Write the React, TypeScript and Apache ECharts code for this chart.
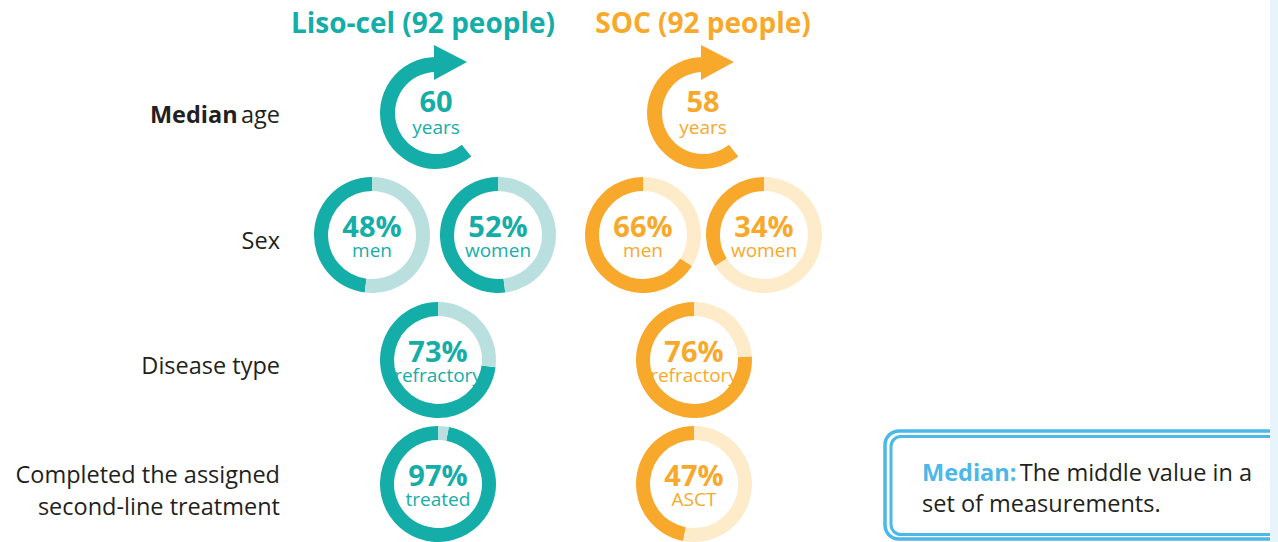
import { useEffect, useRef } from 'react';
import * as echarts from 'echarts';

const groups = ['Liso-cel (92 people)', 'SOC (92 people)'];
const rowLabels = ['Median age', 'Sex', 'Disease type', 'Completed the assigned\nsecond-line treatment'];
const medianAge = [60, 58];
const menPct = [48, 66];
const womenPct = [52, 34];
const refractoryPct = [73, 76];
const completedPct = [97, 47];
const completedLabels = ['treated', 'ASCT'];
const arcDegrees = 219;

const FONT = 'Open Sans';
const DARK = ['#15ada8', '#f8a92b'];
const LIGHT = ['#b9e0df', '#fdebca'];
const TEXT = '#231f20';
const BLUE = '#4bb8e8';

export default function App() {
  const ref = useRef<HTMLDivElement>(null);
  useEffect(() => {
    const chart = echarts.init(ref.current!, null, { renderer: 'svg' });

    const donut = (
      cx: number,
      cy: number,
      pct: number,
      sub: string,
      g: number,
      r: [number, number]
    ) => ({
      type: 'pie',
      silent: true,
      center: [cx, cy],
      radius: r,
      startAngle: 90,
      clockwise: false,
      avoidLabelOverlap: false,
      labelLine: { show: false },
      itemStyle: { borderWidth: 0 },
      data: [
        {
          value: pct,
          itemStyle: { color: DARK[g] },
          label: {
            show: true,
            position: 'center',
            formatter: `{p|${pct}%}\n{s|${sub}}`,
            rich: {
              p: { fontFamily: FONT, fontSize: 29, fontWeight: 'bold', color: DARK[g], lineHeight: 29 },
              s: { fontFamily: FONT, fontSize: 19, color: DARK[g], lineHeight: 19 },
            },
          },
        },
        { value: 100 - pct, itemStyle: { color: LIGHT[g] }, label: { show: false } },
      ],
    });

    const ageArc = (cx: number, cy: number, age: number, g: number) => ({
      type: 'pie',
      silent: true,
      center: [cx, cy],
      radius: [41, 56],
      startAngle: 90,
      clockwise: false,
      avoidLabelOverlap: false,
      labelLine: { show: false },
      itemStyle: { borderWidth: 0 },
      data: [
        {
          value: arcDegrees,
          itemStyle: { color: DARK[g] },
          label: {
            show: true,
            position: 'center',
            formatter: `{p|${age}}\n{s|years}`,
            rich: {
              p: { fontFamily: FONT, fontSize: 29, fontWeight: 'bold', color: DARK[g], lineHeight: 28 },
              s: { fontFamily: FONT, fontSize: 19, color: DARK[g], lineHeight: 25 },
            },
          },
        },
        { value: 360 - arcDegrees, itemStyle: { color: 'rgba(0,0,0,0)' }, label: { show: false } },
      ],
    });

    const ageCx = [436, 703];
    const ageCy = 113;
    const colCx = [438, 694];
    const sexCx = [
      [372, 498],
      [643, 764],
    ];
    const rowY = [113, 235, 360, 484];
    const R: [number, number] = [44, 58];

    const series: any[] = [];
    for (let g = 0; g < 2; g++) {
      series.push(ageArc(ageCx[g], ageCy, medianAge[g], g));
      series.push(donut(sexCx[g][0], rowY[1], menPct[g], 'men', g, R));
      series.push(donut(sexCx[g][1], rowY[1], womenPct[g], 'women', g, R));
      series.push(donut(colCx[g], rowY[2], refractoryPct[g], 'refractory', g, R));
      series.push(donut(colCx[g], rowY[3], completedPct[g], completedLabels[g], g, R));
    }

    const graphic: any[] = [];
    // headers
    const headerX = [423, 703];
    groups.forEach((t, g) => {
      graphic.push({
        type: 'text',
        x: headerX[g],
        y: 22,
        style: {
          text: t,
          fill: DARK[g],
          font: `bold 28px "${FONT}"`,
          align: 'center',
          verticalAlign: 'middle',
        },
      });
      // arrowheads
      const cx = ageCx[g];
      graphic.push({
        type: 'polygon',
        shape: { points: [[cx - 2, 45], [cx + 31, 62], [cx - 2, 80]] },
        style: { fill: DARK[g] },
      });
    });

    // row labels
    graphic.push({
      type: 'text',
      x: 280,
      y: rowY[0] + 1,
      style: {
        text: '{b|Median} {n|age}',
        align: 'right',
        verticalAlign: 'middle',
        rich: {
          b: { fontFamily: FONT, fontSize: 23.5, fontWeight: 'bold', fill: TEXT },
          n: { fontFamily: FONT, fontSize: 23.5, fill: TEXT },
        },
      },
    });
    [1, 2].forEach((i) => {
      graphic.push({
        type: 'text',
        x: 280,
        y: rowY[i] + 5,
        style: {
          text: rowLabels[i],
          font: `23.5px "${FONT}"`,
          fill: TEXT,
          align: 'right',
          verticalAlign: 'middle',
        },
      });
    });
    graphic.push({
      type: 'text',
      x: 280,
      y: 490,
      style: {
        text: rowLabels[3],
        font: `23.5px "${FONT}"`,
        fill: TEXT,
        align: 'right',
        verticalAlign: 'middle',
        lineHeight: 32,
      },
    });

    // definition box
    graphic.push({
      type: 'rect',
      shape: { x: 885, y: 431, width: 420, height: 108, r: 14 },
      style: { fill: 'none', stroke: BLUE, lineWidth: 3.5 },
    });
    graphic.push({
      type: 'rect',
      shape: { x: 891, y: 436.5, width: 410, height: 98, r: 10 },
      style: { fill: 'none', stroke: BLUE, lineWidth: 3 },
    });
    graphic.push({
      type: 'text',
      x: 922,
      y: 487,
      style: {
        text: '{b|Median:} {n|The middle value in a}\n{n|set of measurements.}',
        align: 'left',
        verticalAlign: 'middle',
        rich: {
          b: { fontFamily: FONT, fontSize: 23.5, fontWeight: 'bold', fill: BLUE, lineHeight: 31 },
          n: { fontFamily: FONT, fontSize: 23.5, fill: TEXT, lineHeight: 31 },
        },
      },
    });
    // right strip
    graphic.push({
      type: 'rect',
      z: 100,
      shape: { x: 1270, y: 0, width: 8, height: 542 },
      style: { fill: '#e8f4fb' },
    });

    chart.setOption({
      animation: false,
      backgroundColor: '#ffffff',
      series,
      graphic,
    });
    return () => chart.dispose();
  }, []);
  return (
    <div
      ref={ref}
      style={{ position: 'fixed', left: 0, top: 0, width: 1278, height: 542 }}
    />
  );
}
